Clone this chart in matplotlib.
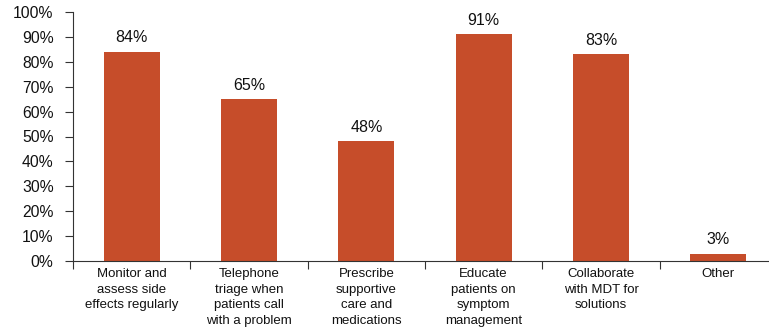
import matplotlib.pyplot as plt
from matplotlib.ticker import FixedLocator, PercentFormatter
import numpy as np

plt.rcParams['font.family'] = ['Liberation Sans', 'DejaVu Sans']

categories = [
    "Monitor and\nassess side\neffects regularly",
    "Telephone\ntriage when\npatients call\nwith a problem",
    "Prescribe\nsupportive\ncare and\nmedications",
    "Educate\npatients on\nsymptom\nmanagement",
    "Collaborate\nwith MDT for\nsolutions",
    "Other",
]
values = [84, 65, 48, 91, 83, 3]

bar_color = '#C64D2A'

fig = plt.figure(figsize=(7.69, 3.31), dpi=100)
ax = fig.add_axes([73 / 769, 70 / 331, 704 / 769, 249 / 331])

x = np.arange(len(categories))
bars = ax.bar(x, values, width=0.48, color=bar_color)

# value labels above each bar
for xi, v in zip(x, values):
    ax.text(xi, v + 2.6, f"{v}%", ha='center', va='bottom', fontsize=11.5, color='#111111')

ax.set_xlim(-0.5, len(categories) - 0.5)
ax.set_ylim(0, 100)
ax.set_yticks(np.arange(0, 101, 10))
ax.yaxis.set_major_formatter(PercentFormatter(decimals=0))
ax.tick_params(axis='y', labelsize=11.3, length=6, width=0.8, colors='#333333', labelcolor='#111111', pad=8)

ax.set_xticks(x)
ax.set_xticklabels(categories, fontsize=9.5, color='#111111', linespacing=1.4, va='top')
ax.tick_params(axis='x', which='major', length=0, pad=5)
# boundary ticks between categories
ax.xaxis.set_minor_locator(FixedLocator(np.arange(0, len(categories)) - 0.5))
ax.tick_params(axis='x', which='minor', length=6, width=0.8, colors='#333333', direction='out')

for side in ('top', 'right'):
    ax.spines[side].set_visible(False)
for side in ('left', 'bottom'):
    ax.spines[side].set_color('#333333')
    ax.spines[side].set_linewidth(0.8)

fig.savefig('out.png', dpi=100)
